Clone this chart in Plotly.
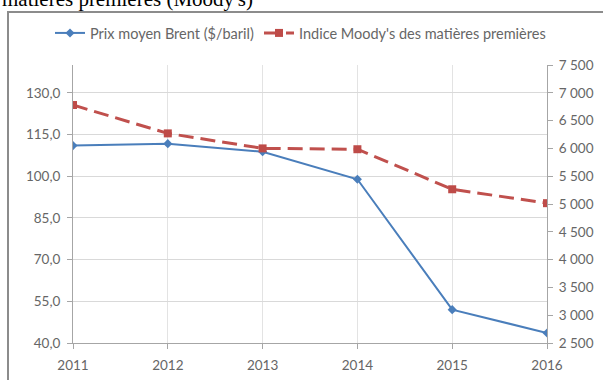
import plotly.graph_objects as go

years = [2011, 2012, 2013, 2014, 2015, 2016]
brent = [111.0, 111.7, 108.8, 98.9, 52.0, 43.6]
moody = [6780, 6270, 6000, 5985, 5265, 5015]

# pixel layout helpers
W, H = 603, 380
L, R, T, B = 73, 547, 65, 343
def px(x):
    return (x - L) / (R - L)
def py(y):
    return (B - y) / (B - T)

fig = go.Figure()
fig.add_trace(go.Scatter(
    x=years, y=brent, name="Prix moyen Brent ($/baril)", mode="lines+markers",
    line=dict(color="#4a7ebb", width=2),
    marker=dict(symbol="diamond", size=7, color="#4a7ebb"),
    yaxis="y", legend="legend"))
fig.add_trace(go.Scatter(
    x=years, y=moody, name="Indice Moody's des matières premières", mode="lines+markers",
    line=dict(color="#c0504d", width=3, dash="15px,7px"),
    marker=dict(symbol="square", size=8, color="#be4b48"),
    yaxis="y2", legend="legend2"))

tickfont = dict(family="Lato, Liberation Sans, sans-serif", size=13.5, color="#666666")
legfont = dict(family="Lato, Liberation Sans, sans-serif", size=14.5, color="#666666")

fig.update_layout(
    width=W, height=H,
    margin=dict(l=L, r=W - R, t=T, b=H - B, autoexpand=False),
    paper_bgcolor="white", plot_bgcolor="white",
    separators=", ",
    showlegend=True,
    legend=dict(orientation="h", xref="container", yref="container",
                x=50 / W, xanchor="left", y=1 - 33 / H, yanchor="middle",
                font=legfont, bgcolor="rgba(0,0,0,0)"),
    legend2=dict(orientation="h", xref="container", yref="container",
                 x=259 / W, xanchor="left", y=1 - 33 / H, yanchor="middle",
                 font=legfont, bgcolor="rgba(0,0,0,0)"),
    xaxis=dict(range=[2011, 2016], tickmode="array", tickvals=years,
               ticktext=[str(y) for y in years],
               showgrid=True, gridcolor="#e3e3e3", gridwidth=1,
               showline=True, linecolor="#a6a6a6", linewidth=1,
               ticks="outside", ticklen=5, tickcolor="#a6a6a6",
               ticklabelstandoff=5,
               tickfont=tickfont, zeroline=False, fixedrange=True),
    yaxis=dict(range=[40, 140], tick0=40, dtick=15, tickformat=".1f",
               showgrid=True, gridcolor="#d9d9d9", gridwidth=1,
               showline=True, linecolor="#a6a6a6", linewidth=1,
               ticks="outside", ticklen=5, tickcolor="#a6a6a6",
               ticklabelstandoff=4,
               tickfont=tickfont, zeroline=False),
    yaxis2=dict(range=[2500, 7500], tick0=2500, dtick=500, tickformat=",d",
                overlaying="y", side="right",
                showgrid=False, showline=True, linecolor="#a6a6a6", linewidth=1,
                ticks="outside", ticklen=5, tickcolor="#a6a6a6",
                ticklabelstandoff=3,
                tickfont=tickfont, zeroline=False),
    shapes=[dict(type="rect", xref="paper", yref="paper",
                 x0=px(8), x1=px(620), y0=py(400), y1=py(12),
                 line=dict(color="#8c8c8c", width=2), fillcolor="rgba(0,0,0,0)", layer="below")],
    annotations=[dict(text="matières premières (Moody's)", xref="paper", yref="paper",
                      x=px(0), xanchor="left", y=py(13), yanchor="bottom",
                      showarrow=False,
                      font=dict(family="Liberation Serif, serif", size=21, color="black"))],
)

fig.write_html("out.html")
